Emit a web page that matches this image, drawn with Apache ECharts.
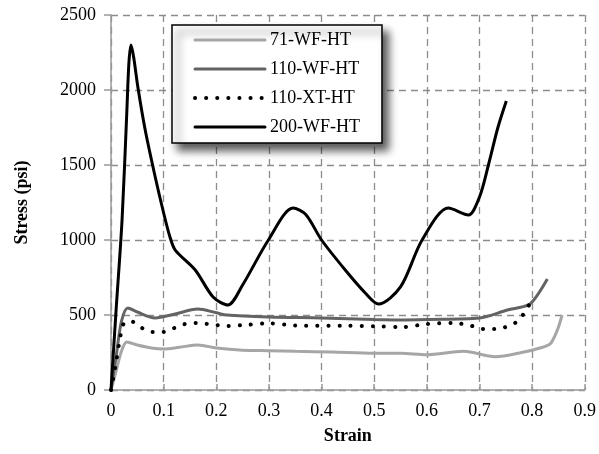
<!DOCTYPE html>
<html>
<head>
<meta charset="utf-8">
<script src="https://cdn.jsdelivr.net/npm/echarts@6/dist/echarts.min.js"></script>
<style>
  html, body { margin: 0; padding: 0; background: #fff; }
  #chart { width: 599px; height: 454px; }
</style>
</head>
<body>
<div id="chart"></div>
<script>
const seriesNames = ['71-WF-HT', '110-WF-HT', '110-XT-HT', '200-WF-HT'];

const strain71 = [0, 0.01, 0.02, 0.03, 0.05, 0.08, 0.1, 0.13, 0.165, 0.2, 0.25, 0.3, 0.35, 0.42, 0.5, 0.55, 0.6, 0.67, 0.73, 0.78, 0.82, 0.835, 0.848, 0.857];
const stress71 = [0, 130, 260, 320, 300, 278, 273, 285, 300, 280, 265, 262, 258, 253, 245, 245, 235, 258, 222, 250, 285, 310, 400, 500];

const strain110wf = [0, 0.01, 0.02, 0.032, 0.05, 0.084, 0.12, 0.165, 0.2, 0.22, 0.3, 0.4, 0.5, 0.55, 0.6, 0.7, 0.753, 0.793, 0.81, 0.829];
const stress110wf = [0, 230, 460, 547, 520, 480, 505, 540, 515, 500, 487, 480, 470, 467, 470, 480, 533, 567, 633, 740];

const strain110xt = [0, 0.008, 0.016, 0.025, 0.04, 0.059, 0.078, 0.099, 0.12, 0.141, 0.163, 0.184, 0.222, 0.26, 0.3, 0.35, 0.45, 0.5, 0.555, 0.6, 0.65, 0.686, 0.707, 0.73, 0.75, 0.77, 0.785, 0.8, 0.805];
const stress110xt = [0, 150, 320, 447, 455, 413, 387, 387, 413, 440, 447, 440, 427, 435, 445, 430, 428, 425, 420, 440, 447, 427, 407, 407, 420, 453, 513, 600, 620];

const strain200 = [0, 0.01, 0.021, 0.03, 0.034, 0.038, 0.043, 0.051, 0.065, 0.084, 0.1, 0.112, 0.122, 0.16, 0.194, 0.222, 0.25, 0.299, 0.346, 0.37, 0.4, 0.445, 0.483, 0.508, 0.55, 0.591, 0.641, 0.679, 0.7, 0.717, 0.735, 0.751];
const stress200 = [0, 550, 1133, 1850, 2180, 2300, 2220, 2020, 1733, 1420, 1180, 1020, 933, 800, 620, 567, 700, 1000, 1213, 1170, 1000, 800, 647, 573, 687, 1000, 1213, 1167, 1287, 1500, 1750, 1927];

function pairs(xs, ys) {
  return xs.map((x, i) => [x, ys[i]]);
}

const font = 'Liberation Serif';
const chart = echarts.init(document.getElementById('chart'));

const gridLine = { lineStyle: { color: '#8c8c8c', width: 1.3, type: [7, 5] } };

chart.setOption({
  animation: false,
  backgroundColor: '#fff',
  textStyle: { fontFamily: font },
  grid: { left: 111, right: 14, top: 15, bottom: 64 },
  legend: {
    orient: 'vertical',
    left: 172,
    top: 25,
    data: seriesNames,
    itemWidth: 70,
    itemHeight: 20,
    itemGap: 9,
    padding: [5, 22, 6, 21],
    backgroundColor: '#fff',
    borderColor: '#000',
    borderWidth: 1.5,
    borderRadius: 0,
    shadowBlur: 8,
    shadowColor: 'rgba(0,0,0,0.65)',
    shadowOffsetX: 6,
    shadowOffsetY: 7,
    itemStyle: { opacity: 0 },
    lineStyle: { width: 'inherit', type: 'inherit', cap: 'round' },
    textStyle: { fontFamily: font, fontSize: 18, color: '#000', lineHeight: 20 }
  },
  xAxis: {
    type: 'value',
    min: 0,
    max: 0.9,
    interval: 0.1,
    name: 'Strain',
    nameLocation: 'middle',
    nameGap: 37,
    nameTextStyle: { fontFamily: font, fontSize: 18, fontWeight: 'bold', color: '#000' },
    axisLine: { show: true, lineStyle: { color: '#999', width: 1.5 } },
    axisTick: { show: true, inside: true, length: 6, lineStyle: { color: '#999', width: 1.5 } },
    axisLabel: { fontFamily: font, fontSize: 18, color: '#000', margin: 12,
      formatter: v => String(Math.round(v * 10) / 10) },
    splitLine: gridLine
  },
  yAxis: {
    type: 'value',
    min: 0,
    max: 2500,
    interval: 500,
    name: 'Stress (psi)',
    nameLocation: 'middle',
    nameGap: 80,
    nameTextStyle: { fontFamily: font, fontSize: 18, fontWeight: 'bold', color: '#000' },
    axisLine: { show: true, lineStyle: { color: '#999', width: 1.5 } },
    axisTick: { show: true, length: 7, lineStyle: { color: '#999', width: 1.5 } },
    axisLabel: { fontFamily: font, fontSize: 18, color: '#000', margin: 15,
      formatter: v => String(v) },
    splitLine: gridLine
  },
  series: [
    {
      name: seriesNames[0], type: 'line', symbol: 'none', smooth: 0.3,
      data: pairs(strain71, stress71),
      lineStyle: { color: '#a6a6a6', width: 3 }, itemStyle: { color: '#a6a6a6' }
    },
    {
      name: seriesNames[1], type: 'line', symbol: 'none', smooth: 0.3,
      data: pairs(strain110wf, stress110wf),
      lineStyle: { color: '#636363', width: 3 }, itemStyle: { color: '#636363' }
    },
    {
      name: seriesNames[2], type: 'line', symbol: 'none', smooth: 0.3,
      data: pairs(strain110xt, stress110xt),
      lineStyle: { color: '#000', width: 4, type: [0.1, 11], cap: 'round' }, itemStyle: { color: '#000' }
    },
    {
      name: seriesNames[3], type: 'line', symbol: 'none', smooth: 0.3,
      data: pairs(strain200, stress200),
      lineStyle: { color: '#000', width: 3 }, itemStyle: { color: '#000' }
    }
  ]
});
</script>
</body>
</html>
